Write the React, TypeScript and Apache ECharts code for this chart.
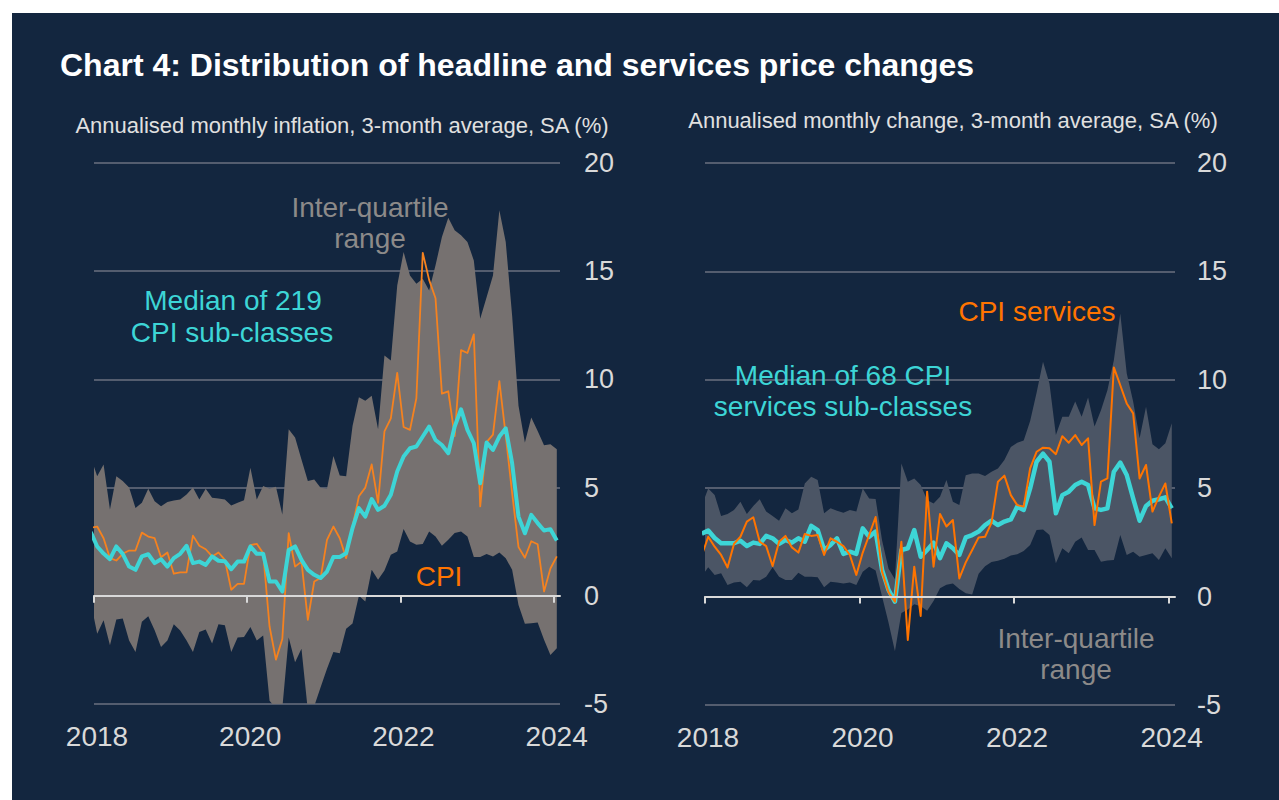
import React, { useEffect, useRef } from 'react';
import * as echarts from 'echarts';

// Monthly observations, Dec 2017 .. Jan 2024 (74 months), plotted mid-month
const firstYear = 2017;
const firstMonth = 12;
const months: string[] = [];
for (let i = 0; i < 74; i++) {
  const mm = firstMonth - 1 + i;
  const y = firstYear + Math.floor(mm / 12);
  const m = (mm % 12) + 1;
  months.push(`${y}-${String(m).padStart(2, '0')}`);
}
const yearTicks = [2018, 2020, 2022, 2024];

// Left panel: all CPI sub-classes
const leftUpper = [6.4, 5.53, 6.07, 3.99, 5.53, 5.3, 5.0, 4.06, 4.3, 4.95, 4.37, 4.14, 4.33, 4.4, 4.45, 4.68, 5.0, 4.45, 4.95, 4.53, 4.5, 4.45, 4.17, 4.3, 4.42, 5.92, 4.45, 5.07, 4.95, 5.04, 3.76, 7.7, 7.31, 6.3, 5.3, 5.38, 4.99, 4.95, 6.46, 5.56, 5.53, 7.85, 9.17, 9.01, 9.24, 7.7, 11.1, 10.87, 14.34, 15.89, 14.8, 14.42, 14.65, 14.11, 15.27, 16.58, 17.47, 16.89, 16.66, 16.35, 15.5, 12.8, 13.8, 14.8, 17.82, 16.35, 12.95, 8.78, 7.08, 8.24, 7.62, 6.96, 7.0, 6.77];
const leftLower = [-0.3, -1.75, -1.13, -2.29, -1.1, -1.05, -2.06, -2.6, -1.2, -0.94, -1.59, -2.37, -2.06, -1.32, -1.6, -2.06, -2.6, -1.67, -1.56, -2.21, -1.32, -1.36, -2.6, -1.93, -1.9, -1.44, -2.06, -1.83, -4.85, -5.2, -5.2, -1.93, -3.07, -2.45, -5.3, -5.1, -4.23, -3.37, -2.6, -2.65, -1.52, -1.28, 0.0, -0.26, 1.2, 0.74, 1.17, 1.9, 2.05, 3.09, 2.51, 2.36, 2.39, 2.97, 2.74, 2.31, 2.59, 2.9, 2.97, 2.74, 1.79, 1.79, 1.93, 1.82, 2.0, 1.74, 1.2, -0.42, -1.29, -1.27, -1.23, -2.03, -2.73, -2.42];
const leftMedian = [2.95, 2.28, 1.95, 1.69, 2.28, 1.94, 1.35, 1.2, 1.82, 1.92, 1.51, 1.69, 1.35, 1.74, 1.94, 2.31, 1.51, 1.58, 1.43, 1.82, 1.62, 1.6, 1.23, 1.58, 1.58, 2.28, 1.94, 1.94, 0.66, 0.66, 0.2, 2.12, 2.28, 1.66, 1.2, 0.97, 0.82, 1.12, 1.79, 1.79, 1.97, 3.13, 4.05, 3.66, 4.47, 3.97, 4.16, 4.67, 5.74, 6.44, 6.82, 6.9, 7.36, 7.82, 7.2, 6.97, 6.59, 7.82, 8.62, 7.67, 7.05, 5.2, 7.08, 6.74, 7.36, 7.74, 6.13, 3.66, 2.89, 3.74, 3.36, 3.02, 3.08, 2.56];
const leftCPI = [3.14, 3.2, 2.66, 1.74, 1.63, 1.94, 2.09, 2.09, 2.92, 2.74, 2.66, 1.78, 2.0, 1.02, 1.08, 1.08, 2.78, 2.31, 2.15, 1.82, 2.0, 1.66, 0.28, 0.55, 0.55, 2.34, 2.4, 1.97, -1.42, -2.95, -2.0, 2.89, 1.35, 1.58, -1.11, 0.66, 0.82, 2.58, 3.2, 2.66, 1.74, 3.2, 4.6, 5.0, 6.07, 4.3, 7.6, 8.2, 10.3, 7.8, 7.67, 9.13, 15.85, 14.6, 13.75, 9.34, 9.45, 7.38, 11.35, 11.22, 12.08, 4.13, 7.1, 7.45, 9.92, 7.4, 4.75, 2.25, 1.76, 2.52, 2.38, 0.2, 1.26, 1.82];

// Right panel: CPI services sub-classes
const rightUpper = [4.2, 4.99, 4.69, 3.72, 3.81, 3.99, 4.38, 3.81, 4.18, 4.49, 3.92, 3.72, 3.5, 4.07, 3.84, 4.02, 5.22, 5.53, 5.38, 3.84, 4.07, 3.96, 3.87, 3.99, 3.92, 4.99, 4.53, 4.5, 2.6, 1.3, 0.8, 6.14, 5.3, 5.45, 5.15, 4.45, 4.3, 4.6, 5.38, 4.38, 4.22, 5.6, 5.68, 5.68, 5.56, 5.76, 5.91, 6.3, 6.9, 7.1, 7.2, 8.1, 9.4, 10.83, 9.83, 7.45, 8.29, 8.29, 9.0, 8.29, 9.18, 7.85, 8.6, 9.52, 10.9, 13.06, 10.3, 9.0, 7.3, 8.76, 7.03, 6.8, 7.07, 8.0];
const rightLower = [0.95, 1.35, 1.0, 1.08, 0.54, 0.65, 0.69, 0.43, 0.77, 0.74, 0.92, 1.35, 0.92, 0.77, 0.77, 1.1, 0.92, 0.92, 0.89, 0.43, 0.69, 0.65, 0.61, 0.65, 0.54, 1.15, 1.38, 1.2, 0.0, -1.2, -2.52, -0.76, -0.6, -0.35, -0.45, -0.65, -0.2, 0.38, 0.55, 0.6, 0.35, 0.15, 0.1, 1.05, 1.4, 1.6, 1.65, 1.75, 1.9, 1.95, 2.1, 2.38, 3.07, 3.1, 2.84, 1.54, 2.23, 2.0, 2.53, 2.73, 2.15, 2.15, 1.61, 1.66, 1.69, 2.84, 1.92, 2.07, 1.84, 1.92, 2.0, 1.69, 2.23, 1.77];
const rightMedian = [2.9, 3.05, 2.7, 2.46, 2.46, 2.46, 2.58, 2.33, 2.49, 2.43, 2.8, 2.69, 2.43, 2.61, 2.49, 2.69, 2.53, 3.26, 3.07, 2.15, 2.38, 2.69, 1.97, 2.07, 1.97, 3.15, 2.76, 3.0, 1.23, 0.31, -0.23, 2.15, 2.23, 3.07, 1.84, 2.15, 2.49, 1.77, 2.46, 2.23, 1.92, 2.73, 2.84, 3.0, 3.3, 3.5, 3.3, 3.46, 3.56, 4.15, 4.0, 4.99, 6.22, 6.6, 6.22, 3.84, 4.68, 4.84, 5.15, 5.3, 5.15, 4.07, 4.0, 4.07, 5.76, 6.18, 5.61, 4.53, 3.5, 4.18, 4.42, 4.49, 4.58, 4.07];
const rightCPIServices = [1.9, 2.76, 2.3, 1.92, 1.34, 2.43, 2.76, 3.46, 3.66, 2.53, 2.33, 1.41, 2.53, 2.8, 2.27, 2.03, 2.89, 2.8, 2.84, 1.92, 2.69, 2.53, 2.33, 1.92, 1.0, 2.03, 2.84, 3.67, 1.15, 0.2, -0.23, 2.53, -2.0, 1.38, -0.89, 4.84, 1.38, 3.81, 3.23, 3.53, 0.84, 1.58, 2.15, 2.73, 2.76, 3.4, 5.3, 5.58, 4.68, 4.22, 4.15, 5.91, 6.68, 6.87, 6.84, 6.57, 7.4, 7.1, 7.45, 6.99, 7.3, 3.3, 5.3, 5.45, 10.57, 9.75, 8.91, 8.45, 5.45, 6.07, 3.92, 4.61, 5.22, 3.38];

const FONT = '"Liberation Sans", Arial, Helvetica, sans-serif';
const NAVY = '#13263f';
const AXIS_TEXT = '#d9d9d9';
const GRID_LINE = '#6b7180';
const CYAN = '#3dd5d6';
const ORANGE_L = '#f5821f';
const ORANGE_R = '#ff7400';
const BAND_L = '#767170';
const BAND_R = '#4b5565';
const IQR_TEXT = '#8c8a89';

// x position in months since 1 Jan 2018, mid-month
const monthX = months.map((s) => {
  const [y, m] = s.split('-').map(Number);
  return (y - 2018) * 12 + (m - 1) + 0.5;
});
const tickX = yearTicks.map((y) => (y - 2018) * 12);

export default function App() {
  const ref = useRef<HTMLDivElement>(null);

  useEffect(() => {
    if (!ref.current) return;
    const chart = echarts.init(ref.current, null, { renderer: 'svg', width: 1279, height: 800 });

    const pairs = (arr: number[]) => arr.map((v, i) => [monthX[i], v]);

    const lineAxis = (g: number) => ({
      type: 'value', gridIndex: g, min: 0, max: 73, position: 'bottom', z: 5,
      axisLine: { show: true, onZero: true, lineStyle: { color: AXIS_TEXT, width: 2 } },
      axisTick: { show: true, inside: false, length: 7, customValues: tickX, lineStyle: { color: AXIS_TEXT, width: 2 } },
      axisLabel: { show: false },
      splitLine: { show: false },
    });
    const labelAxis = (g: number) => ({
      type: 'value', gridIndex: g, min: 0, max: 73, position: 'bottom',
      axisLine: { show: false, onZero: false },
      axisTick: { show: false },
      splitLine: { show: false },
      axisLabel: {
        show: true, customValues: tickX, margin: 18, padding: [0, 0, 0, 6],
        formatter: (v: number) => String(2018 + Math.round(v / 12)),
        color: AXIS_TEXT, fontSize: 28, fontFamily: FONT,
      },
    });
    const yAxis = (g: number, margin: number) => ({
      type: 'value', gridIndex: g, position: 'right', min: -5, max: 20, interval: 5,
      axisLine: { show: false }, axisTick: { show: false },
      axisLabel: { color: AXIS_TEXT, fontSize: 27, fontFamily: FONT, margin },
      splitLine: { show: true, lineStyle: { color: GRID_LINE, width: 1.5 } },
    });

    // Inter-quartile band as one polygon through the axes' own coordinate mapping
    const bandSeries = (xi: number, yi: number, lo: number[], up: number[], color: string) => ({
      type: 'custom', xAxisIndex: xi, yAxisIndex: yi, clip: true, silent: true, z: 1,
      data: [[monthX[0], up[0]]],
      renderItem: (_p: any, api: any) => {
        const top = up.map((v, i) => api.coord([monthX[i], v]));
        const bot = lo.map((v, i) => api.coord([monthX[i], v])).reverse();
        return { type: 'polygon', shape: { points: top.concat(bot) }, style: { fill: color } };
      },
    });
    const lineSeries = (xi: number, yi: number, arr: number[], color: string, width: number, z: number) => ({
      type: 'line', xAxisIndex: xi, yAxisIndex: yi, data: pairs(arr), symbol: 'none',
      lineStyle: { color, width, join: 'round' }, z,
    });

    const txt = (text: string, x: number, y: number, size: number, fill: string, align = 'center', weight = 'normal') => ({
      type: 'text', x, y, silent: true, z: 100,
      style: { text, fill, font: `${weight} ${size}px ${FONT}`, textAlign: align, textVerticalAlign: 'middle' },
    });

    chart.setOption({
      animation: false,
      backgroundColor: 'transparent',
      grid: [
        { left: 94, top: 163, width: 466, height: 541 },
        { left: 705, top: 163, width: 470, height: 542 },
      ],
      xAxis: [lineAxis(0), labelAxis(0), lineAxis(1), labelAxis(1)],
      yAxis: [yAxis(0, 24), yAxis(1, 22)],
      series: [
        bandSeries(0, 0, leftLower, leftUpper, BAND_L),
        lineSeries(0, 0, leftCPI, ORANGE_L, 1.8, 3),
        lineSeries(0, 0, leftMedian, CYAN, 4, 4),
        bandSeries(2, 1, rightLower, rightUpper, BAND_R),
        lineSeries(2, 1, rightMedian, CYAN, 4.5, 3),
        lineSeries(2, 1, rightCPIServices, ORANGE_R, 2, 4),
      ],
      graphic: [
        txt('Chart 4: Distribution of headline and services price changes', 60, 65, 32, '#ffffff', 'left', 'bold'),
        txt('Annualised monthly inflation, 3-month average, SA (%)', 342, 125, 22, '#e0e0e0'),
        txt('Annualised monthly change, 3-month average, SA (%)', 953, 120, 22, '#e0e0e0'),
        txt('Inter-quartile', 370, 207, 28, IQR_TEXT),
        txt('range', 370, 238, 28, IQR_TEXT),
        txt('Median of 219', 233, 300, 28, CYAN),
        txt('CPI sub-classes', 232, 332, 28, CYAN),
        txt('CPI', 439, 576, 28, ORANGE_R),
        txt('CPI services', 1037, 311, 28, ORANGE_R),
        txt('Median of 68 CPI', 843, 375, 28, CYAN),
        txt('services sub-classes', 843, 406, 28, CYAN),
        txt('Inter-quartile', 1076, 638, 28, IQR_TEXT),
        txt('range', 1076, 669, 28, IQR_TEXT),
      ],
    });

    return () => chart.dispose();
  }, []);

  return (
    <div style={{ position: 'fixed', left: 0, top: 0, width: 1279, height: 800, background: '#ffffff' }}>
      <div style={{ position: 'absolute', left: 12, top: 13, right: 0, bottom: 0, background: NAVY }} />
      <div ref={ref} style={{ position: 'absolute', left: 0, top: 0, width: 1279, height: 800 }} />
    </div>
  );
}
